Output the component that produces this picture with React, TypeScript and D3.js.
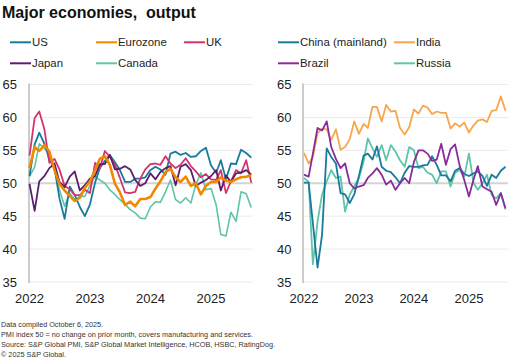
import * as d3 from 'd3'

// Composite PMI output index, Jan 2022 .. Sep 2025 (monthly)
const months = d3.timeMonths(new Date(2022, 0, 1), new Date(2025, 9, 1))
const yearTicks = ['2022', '2023', '2024', '2025']
const yTicks = [35, 40, 45, 50, 55, 60, 65]

const us = [51.1, 55.9, 57.7, 56.0, 53.6, 52.3, 47.7, 44.6, 49.5, 48.2, 46.4, 45.0,
  46.8, 50.1, 52.3, 53.4, 54.3, 53.2, 52.0, 50.2, 50.2, 50.7, 50.7, 50.9,
  52.0, 52.5, 52.1, 51.3, 54.5, 54.8, 54.3, 54.6, 54.0, 54.1, 54.9, 55.4,
  52.7, 51.6, 53.5, 50.6, 53.0, 52.9, 55.1, 54.6, 53.9]
const eurozone = [52.3, 55.5, 54.9, 55.8, 54.8, 52.0, 49.9, 48.9, 48.1, 47.3, 47.8, 49.3,
  50.3, 52.0, 53.7, 54.1, 52.8, 49.9, 48.6, 46.7, 47.2, 46.5, 47.6, 47.6,
  47.9, 49.2, 50.3, 51.7, 52.2, 50.9, 50.2, 51.0, 49.6, 50.0, 48.3, 49.6,
  50.2, 50.2, 50.9, 50.4, 50.2, 50.6, 50.9, 51.0, 51.2]
const uk = [54.2, 59.9, 60.9, 58.2, 53.1, 53.7, 52.1, 49.6, 49.1, 48.2, 48.2, 49.0,
  48.5, 53.1, 52.2, 54.9, 54.0, 52.8, 50.8, 48.6, 48.5, 48.7, 50.7, 52.1,
  52.9, 53.0, 52.8, 54.1, 53.0, 52.3, 52.8, 53.8, 52.6, 51.8, 50.9, 51.4,
  50.6, 50.5, 52.0, 48.5, 50.3, 52.0, 51.5, 53.5, 50.1]
const japan = [49.9, 45.8, 50.3, 51.1, 52.3, 53.0, 50.2, 49.4, 51.0, 51.8, 48.9, 49.7,
  50.7, 51.1, 52.9, 52.9, 54.3, 52.1, 52.2, 52.6, 52.1, 50.5, 49.6, 50.0,
  51.5, 50.6, 51.7, 52.3, 52.6, 49.7, 52.5, 52.9, 52.0, 49.6, 50.1, 50.5,
  51.1, 52.0, 48.9, 51.2, 50.2, 51.5, 51.6, 52.0, 51.3]
const canada = [51.0, 52.5, 56.0, 55.3, 54.5, 52.0, 49.0, 46.5, 48.5, 47.5, 48.0, 48.0,
  49.7, 51.0, 50.5, 50.0, 49.0, 48.3, 47.5, 46.8, 46.0, 45.5, 44.7, 44.6,
  46.4, 47.2, 47.1, 48.7, 50.5, 47.5, 47.0, 47.8, 47.0, 49.8, 51.6, 49.0,
  49.2, 46.7, 42.2, 42.0, 45.6, 44.2, 48.7, 48.4, 46.3]

const china = [50.1, 50.1, 43.9, 37.2, 42.2, 55.3, 54.0, 53.0, 48.5, 48.3, 47.0, 48.3,
  51.1, 54.2, 54.5, 53.6, 55.6, 52.5, 51.9, 51.7, 50.9, 50.0, 51.6, 52.6,
  52.5, 52.5, 52.7, 52.8, 54.1, 52.8, 51.2, 51.2, 50.3, 51.9, 52.3, 51.4,
  51.1, 51.5, 51.8, 51.1, 49.6, 51.3, 50.8, 51.9, 52.5]
const india = [54.6, 53.0, 54.0, 57.6, 58.3, 58.2, 56.6, 58.2, 55.1, 55.5, 56.7, 59.4,
  57.5, 59.0, 58.4, 61.6, 61.6, 59.4, 61.9, 60.9, 61.0, 58.4, 57.4, 58.5,
  61.2, 60.6, 61.8, 61.5, 60.5, 60.9, 60.7, 60.7, 58.3, 59.1, 58.6, 59.2,
  57.7, 58.8, 59.5, 59.7, 59.3, 61.0, 61.1, 63.2, 61.0]
const brazil = [51.3, 51.0, 54.5, 58.4, 58.0, 59.4, 55.5, 53.7, 52.3, 53.0, 50.0, 49.2,
  49.5, 49.7, 50.8, 51.5, 52.3, 51.3, 49.8, 50.4, 49.0, 50.0, 50.8, 50.0,
  53.2, 55.0, 55.0, 54.5, 53.4, 53.6, 56.0, 52.8, 55.2, 55.9, 52.6, 50.5,
  48.0, 50.6, 52.6, 49.5, 49.1, 48.7, 46.7, 48.5, 46.2]
const russia = [50.8, 50.2, 37.7, 44.2, 48.3, 50.3, 52.0, 50.8, 51.0, 45.7, 48.3, 49.5,
  50.8, 53.3, 56.8, 55.3, 54.0, 55.8, 53.5, 55.8, 54.8, 53.5, 52.5, 55.5,
  55.0, 52.3, 52.5, 51.6, 51.3, 50.0, 51.8, 51.8, 49.5, 51.6, 52.0, 51.0,
  54.5, 50.0, 49.0, 50.0, 51.3, 48.2, 47.7, 48.5, 46.0]

const notes = [
  'Data compiled October 6, 2025.',
  'PMI index 50 = no change on prior month, covers manufacturing and services.',
  'Source: S&P Global PMI,  S&P Global Market Intelligence, HCOB, HSBC, RatingDog.',
  '© 2025 S&P Global.',
]
const noteWidths = [102, 252, 274, 65]

const font = '"Liberation Sans", Arial, sans-serif'

type Series = { name: string; values: number[]; color: string; width: number }

const leftSeries: Series[] = [
  { name: 'Canada', values: canada, color: '#5fc4a9', width: 1.6 },
  { name: 'US', values: us, color: '#1a7a9c', width: 1.8 },
  { name: 'UK', values: uk, color: '#d3336e', width: 1.8 },
  { name: 'Japan', values: japan, color: '#5b1f6e', width: 1.8 },
  { name: 'Eurozone', values: eurozone, color: '#f08800', width: 2.6 },
]
const rightSeries: Series[] = [
  { name: 'India', values: india, color: '#f7a64c', width: 1.8 },
  { name: 'Russia', values: russia, color: '#5fc4a9', width: 1.8 },
  { name: 'China (mainland)', values: china, color: '#1a7a9c', width: 1.8 },
  { name: 'Brazil', values: brazil, color: '#8a2b9c', width: 1.8 },
]

const leftLegend = [['US', 10, 0], ['Eurozone', 96, 0], ['UK', 184, 0], ['Japan', 10, 1], ['Canada', 96, 1]] as const
const rightLegend = [['China (mainland)', 278, 0], ['India', 394, 0], ['Brazil', 278, 1], ['Russia', 394, 1]] as const

const y = d3.scaleLinear().domain([35, 65]).range([282, 84.5])

function Panel({ series, axisX, x0, x1, gridEnd, labelX }: {
  series: Series[]; axisX: number; x0: number; x1: number; gridEnd: number; labelX: number
}) {
  const x = d3.scaleTime().domain([months[0], months[months.length - 1]]).range([x0, x1])
  const line = d3.line<number>().x((_, i) => x(months[i])).y((d) => y(d))
  return (
    <g>
      {yTicks.map((t) => (
        <g key={t}>
          <line x1={axisX} x2={gridEnd} y1={y(t)} y2={y(t)}
            stroke={t === 50 ? '#d4d4d4' : '#ebebeb'} strokeWidth={t === 50 ? 2 : 1} />
          <text x={labelX} y={y(t) + 4.6} textAnchor="end" fontSize={13} fill="#222">{t}</text>
        </g>
      ))}
      <line x1={axisX} x2={axisX} y1={y(65) - 1} y2={y(35) + 1} stroke="#aaa" strokeWidth={1.2} />
      {yearTicks.map((yr) => (
        <text key={yr} x={x(new Date(+yr, 0, 1))} y={302.6} textAnchor="middle" fontSize={13} fill="#222">{yr}</text>
      ))}
      {series.map((s) => (
        <path key={s.name} d={line(s.values) ?? ''} fill="none" stroke={s.color}
          strokeWidth={s.width} strokeLinejoin="round" />
      ))}
    </g>
  )
}

function Legend({ items, series }: { items: readonly (readonly [string, number, number])[]; series: Series[] }) {
  return (
    <g>
      {items.map(([name, lx, row]) => {
        const s = series.find((d) => d.name === name)!
        const cy = 42.3 + row * 21
        return (
          <g key={name}>
            <line x1={lx} x2={lx + 21} y1={cy} y2={cy} stroke={s.color} strokeWidth={2} />
            <text x={lx + 22} y={cy + 4.1} fontSize={11.4} fill="#222">{name}</text>
          </g>
        )
      })}
    </g>
  )
}

export default function App() {
  return (
    <svg width={508} height={359} style={{ position: 'absolute', left: 0, top: 0, background: '#fff' }}
      fontFamily={font}>
      <text x={2} y={18} fontSize={16} fontWeight="bold" fill="#111" style={{ whiteSpace: 'pre' }}>
        Major economies,  output
      </text>
      <Legend items={leftLegend} series={leftSeries} />
      <Legend items={rightLegend} series={rightSeries} />
      <Panel series={leftSeries} axisX={29} x0={29.5} x1={251.3} gridEnd={253} labelX={17} />
      <Panel series={rightSeries} axisX={303} x0={304} x1={505.5} gridEnd={508} labelX={291.5} />
      <g fontSize={7.3} fill="#333" style={{ whiteSpace: 'pre' }}>
        {notes.map((n, i) => (
          <text key={i} x={1} y={326.7 + i * 10} textLength={noteWidths[i]} lengthAdjust="spacingAndGlyphs">{n}</text>
        ))}
      </g>
    </svg>
  )
}
